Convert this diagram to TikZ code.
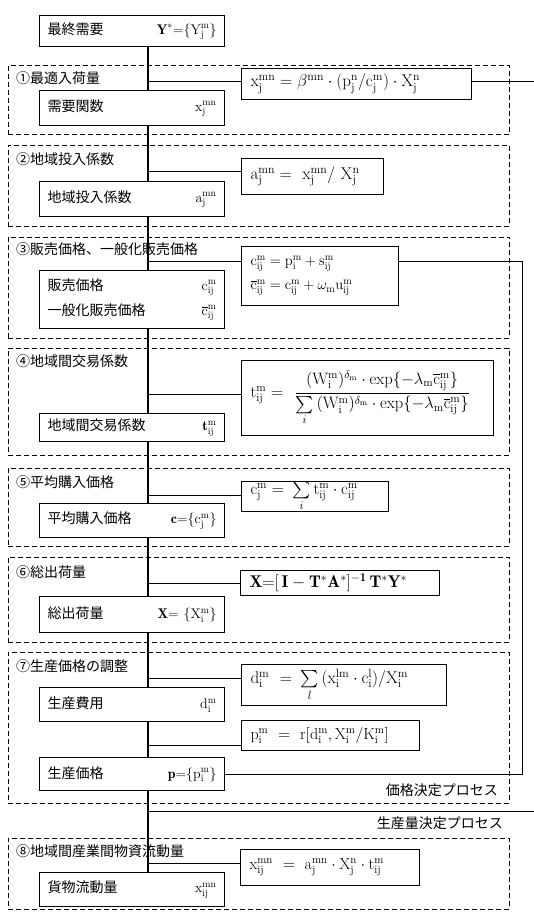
\documentclass[tikz,border=0pt]{standalone}
\usepackage{fix-cm}
\usepackage{fontspec}
\usepackage{amsmath}
\newfontfamily\jp{Noto Sans CJK JP}
\begin{document}
\begin{tikzpicture}[x=1pt,y=-1pt,
  sec/.style={draw, dash pattern=on 5pt off 3pt, line width=0.9pt, anchor=north west, inner sep=0pt, minimum width=501pt},
  lbox/.style={draw, line width=1pt, fill=white, anchor=north west, inner xsep=8pt, inner ysep=0pt, text width=169pt, align=left, font=\jp\fontsize{14}{18}\selectfont},
  fbox/.style={draw, line width=1pt, fill=white, anchor=north west, inner xsep=9pt, inner ysep=0pt, align=left},
  fs/.style={font=\fontsize{#1}{#1}\selectfont},
  ttl/.style={anchor=west, inner sep=0pt, font=\jp\fontsize{14}{17}\selectfont},
  conn/.style={line width=1pt},
  spine/.style={line width=1.4pt}]
\useasboundingbox (0,0) rectangle (534,917);
\fill[white] (0,0) rectangle (534,917);

% sections
\node[sec, minimum height=69.5pt] (S1) at (8,65) {};
\node[sec, minimum height=81pt] (S2) at (8,145) {};
\node[sec, minimum height=101.5pt] (S3) at (8,236.5) {};
\node[sec, minimum height=107pt] (S4) at (8,348) {};
\node[sec, minimum height=78pt] (S5) at (8,468) {};
\node[sec, minimum height=85pt] (S6) at (8,557) {};
\node[sec, minimum height=151pt] (S7) at (8,652) {};
\node[sec, minimum height=71pt] (S8) at (8,838) {};

% titles
\node[ttl] (T1) at (16,78) {①最適入荷量};
\node[ttl] (T2) at (16,159) {②地域投入係数};
\node[ttl] (T3) at (16,249) {③販売価格、一般化販売価格};
\node[ttl] (T4) at (16,361) {④地域間交易係数};
\node[ttl] (T5) at (16,482) {⑤平均購入価格};
\node[ttl] (T6) at (16,572) {⑥総出荷量};
\node[ttl] (T7) at (16,666) {⑦生産価格の調整};
\node[ttl] (T8) at (16,851) {⑧地域間産業間物資流動量};

% spine coordinates
\coordinate (c1) at (148,82);
\coordinate (c2) at (148,172);
\coordinate (c3) at (148,261);
\coordinate (c4) at (148,394);
\coordinate (c5) at (148,495);
\coordinate (c6) at (148,583);
\coordinate (c7) at (148,678);
\coordinate (c7b) at (148,745);
\coordinate (c9) at (148,811);
\coordinate (c8) at (148,863);
\coordinate (e1) at (534,82);
\coordinate (e2) at (534,811);
\coordinate (fb) at (522,261);

% left boxes
\node[lbox, minimum height=31pt] (B0) at (39,15) {最終需要\hfill\mbox{$\mathbf{Y}^{*}{=}\{\mathrm{Y^m_j}\}$}\hspace*{10pt}};
\node[lbox, minimum height=35pt] (B1) at (39,90) {需要関数\hfill\mbox{$\mathrm{x^{mn}_j}$}\hspace*{14pt}};
\node[lbox, minimum height=35pt] (B2) at (39,181) {地域投入係数\hfill\mbox{$\mathrm{a^{mn}_j}$}\hspace*{14pt}};
\node[lbox, minimum height=58pt, font=\jp\fontsize{14}{25}\selectfont] (B3) at (39,270) {販売価格\hfill\mbox{$\mathrm{c^m_{ij}}$}\hspace*{14pt}\\一般化販売価格\hfill\mbox{$\overline{\mathrm{c}}\mathrm{^m_{ij}}$}\hspace*{14pt}};
\node[lbox, minimum height=28pt] (B4) at (39,413) {地域間交易係数\hfill\mbox{$\mathbf{t}\mathrm{^m_{ij}}$}\hspace*{14pt}};
\node[lbox, minimum height=34pt] (B5) at (39,503) {平均購入価格\hfill\mbox{$\mathbf{c}{=}\{\mathrm{c^m_j}\}$}\hspace*{12pt}};
\node[lbox, minimum height=36pt] (B6) at (39,596) {総出荷量\hfill\mbox{$\mathbf{X}{=}\ \{\mathrm{X^m_i}\}$}\hspace*{14pt}};
\node[lbox, minimum height=34pt] (B7) at (39,687) {生産費用\hfill\mbox{$\mathrm{d^m_i}$}\hspace*{14pt}};
\node[lbox, minimum height=33pt] (B8) at (39,757) {生産価格\hfill\mbox{$\mathbf{p}{=}\{\mathrm{p^m_i}\}$}\hspace*{14pt}};
\node[lbox, minimum height=34pt] (B9) at (39,872) {貨物流動量\hfill\mbox{$\mathrm{x^{mn}_{ij}}$}\hspace*{14pt}};

% formula boxes
\node[fbox, fs=17, text width=212pt, minimum height=31pt] (F1) at (241,68) {\mbox{$\mathrm{x^{mn}_j=\beta^{mn}\cdot(p^n_j/c^m_j)\cdot X^n_j}$}};
\node[fbox, fs=17, text width=124pt, minimum height=36pt] (F2) at (241,158) {\mbox{$\mathrm{a^{mn}_j=\ x^{mn}_j/\ X^n_j}$}};
\node[fbox, text width=139pt, minimum height=59pt, font=\fontsize{14.5}{24}\selectfont] (F3) at (241,246) {\mbox{$\mathrm{c^m_{ij}=p^m_i+s^m_{ij}}$}\\\mbox{$\overline{\mathrm{c}}\mathrm{^m_{ij}=c^m_{ij}+\omega_m u^m_{ij}}$}};
\node[fbox, fs=16.5, text width=234pt, minimum height=75pt] (F4) at (241,360) {\mbox{$\mathrm{t^m_{ij}=}\ \ \displaystyle\frac{\mathrm{(W^m_i)^{\delta_m}\cdot exp\{-\lambda_m\overline{c}^m_{ij}\}}}{\sum\limits_i\mathrm{(W^m_i)^{\delta_m}\cdot exp\{-\lambda_m\overline{c}^m_{ij}\}}}$}};
\node[fbox, fs=16.5, text width=129pt, minimum height=28pt] (F5) at (241,481) {\mbox{$\mathrm{c^m_j=\ }\sum\limits_i\mathrm{t^m_{ij}\cdot c^m_{ij}}$}};
\node[fbox, fs=17, text width=181pt, minimum height=25pt] (F6) at (240,570) {\mbox{$\mathbf{X{=}[\,I-T^{*}A^{*}]^{-1}\,T^{*}Y^{*}}$}};
\node[fbox, fs=17, text width=187pt, minimum height=41pt] (F7) at (241,664) {\mbox{$\mathrm{d^m_i\ =\ }\sum\limits_l\mathrm{(x^{lm}_i\cdot c^l_i)/X^m_i}$}};
\node[fbox, fs=16, text width=160pt, minimum height=30pt] (F7b) at (241,720) {\mbox{$\mathrm{p^m_i\ =\ r[d^m_i,X^m_i/K^m_i]}$}};
\node[fbox, fs=16, text width=161pt, minimum height=36pt] (F8) at (240,849) {\mbox{$\mathrm{x^{mn}_{ij}\ =\ a^{mn}_j\cdot X^n_j\cdot t^m_{ij}}$}};

% spine
\draw[spine] (B0.south -| c1) -- (B1.north -| c1);
\draw[spine] (B1.south -| c1) -- (B2.north -| c1);
\draw[spine] (B2.south -| c1) -- (B3.north -| c1);
\draw[spine] (B3.south -| c1) -- (B4.north -| c1);
\draw[spine] (B4.south -| c1) -- (B5.north -| c1);
\draw[spine] (B5.south -| c1) -- (B6.north -| c1);
\draw[spine] (B6.south -| c1) -- (B7.north -| c1);
\draw[spine] (B7.south -| c1) -- (B8.north -| c1);
\draw[spine] (B8.south -| c1) -- (B9.north -| c1);

% branches
\draw[conn] (c1) -- (F1.west |- c1);
\draw[conn] (c2) -- (F2.west |- c2);
\draw[conn] (c3) -- (F3.west |- c3);
\draw[conn] (c4) -- (F4.west |- c4);
\draw[conn] (c5) -- (F5.west |- c5);
\draw[conn] (c6) -- (F6.west |- c6);
\draw[conn] (c7) -- (F7.west |- c7);
\draw[conn] (c7b) -- (F7b.west |- c7b);
\draw[conn] (c8) -- (F8.west |- c8);

% outgoing lines
\draw[conn] (F1.east |- e1) -- (e1);
\draw[conn] (c9) -- (e2);
\draw[conn] (B8.east) -| (fb) -- (F3.east |- fb);

% process labels
\node[anchor=east, inner sep=0pt, font=\jp\fontsize{14}{17}\selectfont] (L1) at (498,790) {価格決定プロセス};
\node[anchor=east, inner sep=0pt, font=\jp\fontsize{14}{17}\selectfont] (L2) at (503,823) {生産量決定プロセス};
\end{tikzpicture}
\end{document}
